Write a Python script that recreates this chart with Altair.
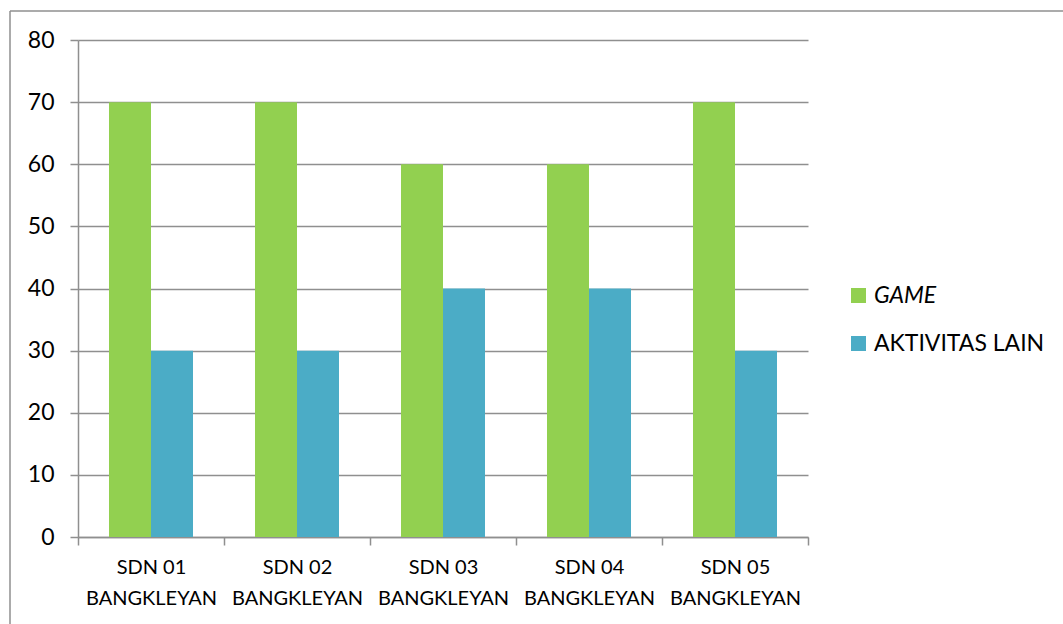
import altair as alt
import pandas as pd

# Survey results per school: share of pupils choosing games vs. other activities
schools = [
    "SDN 01 BANGKLEYAN",
    "SDN 02 BANGKLEYAN",
    "SDN 03 BANGKLEYAN",
    "SDN 04 BANGKLEYAN",
    "SDN 05 BANGKLEYAN",
]
game = [70, 70, 60, 60, 70]
other = [30, 30, 40, 40, 30]
series = ["GAME", "AKTIVITAS LAIN"]
colors = ["#92D050", "#4BACC6"]
y_ticks = [0, 10, 20, 30, 40, 50, 60, 70, 80]

rows = []
for s, g, o in zip(schools, game, other):
    rows.append({"sekolah": s, "kategori": series[0], "nilai": g})
    rows.append({"sekolah": s, "kategori": series[1], "nilai": o})
df = pd.DataFrame(rows)

FONT = "Lato"
LINE = "#8f8f8f"

bars = alt.Chart(df).mark_bar().encode(
    x=alt.X(
        "sekolah:N",
        sort=schools,
        scale=alt.Scale(paddingInner=0, paddingOuter=0),
        axis=alt.Axis(
            title=None,
            labelAngle=0,
            tickBand="extent",
            labelExpr="[slice(datum.label, 0, 6), slice(datum.label, 7)]",
            labelFont=FONT,
            labelFontSize=20,
            labelColor="#000000",
            labelLineHeight=31,
            labelPadding=12,
            tickSize=8,
            tickColor=LINE,
            tickWidth=1.5,
            domainColor=LINE,
            domainWidth=1.5,
            grid=False,
        ),
    ),
    xOffset=alt.XOffset(
        "kategori:N",
        sort=series,
        scale=alt.Scale(paddingInner=0, paddingOuter=0.738),
    ),
    y=alt.Y(
        "nilai:Q",
        scale=alt.Scale(domain=[0, 80], nice=False),
        axis=alt.Axis(
            title=None,
            values=y_ticks,
            labelFont=FONT,
            labelFontSize=23,
            labelColor="#000000",
            labelPadding=16,
            tickSize=8,
            tickColor=LINE,
            tickWidth=1.5,
            domainColor=LINE,
            domainWidth=1.5,
            grid=True,
            gridColor=LINE,
            gridWidth=1.5,
        ),
    ),
    color=alt.Color(
        "kategori:N",
        sort=series,
        scale=alt.Scale(domain=series, range=colors),
        legend=alt.Legend(
            title=None,
            orient="none",
            legendX=769,
            legendY=244,
            symbolType="square",
            symbolSize=225,
            symbolStrokeWidth=0,
            symbolOpacity=1,
            labelFont=FONT,
            labelFontSize=23,
            labelColor="#000000",
            labelOffset=4,
            labelLimit=0,
            rowPadding=24,
            padding=0,
            labelFontStyle={"expr": "datum.label == 'GAME' ? 'italic' : 'normal'"},
        ),
    ),
)

# Outer frame lines around the chart
frame = alt.Data(values=[{}])
frame_top = alt.Chart(frame).mark_rule(color=LINE, strokeWidth=1.5).encode(
    x=alt.value(-68), x2=alt.value(1000), y=alt.value(-29)
)
frame_left = alt.Chart(frame).mark_rule(color=LINE, strokeWidth=1.5).encode(
    x=alt.value(-68), y=alt.value(-29), y2=alt.value(600)
)

chart = (
    alt.layer(frame_top, frame_left, bars)
    .properties(
        width=730,
        height=497,
        padding={"left": 78, "top": 40, "right": 255, "bottom": 87},
        autosize=alt.AutoSizeParams(type="none"),
        background="white",
    )
    .configure_view(stroke=None)
)

chart.save("out.html", embed_options={"renderer": "svg", "actions": False})
